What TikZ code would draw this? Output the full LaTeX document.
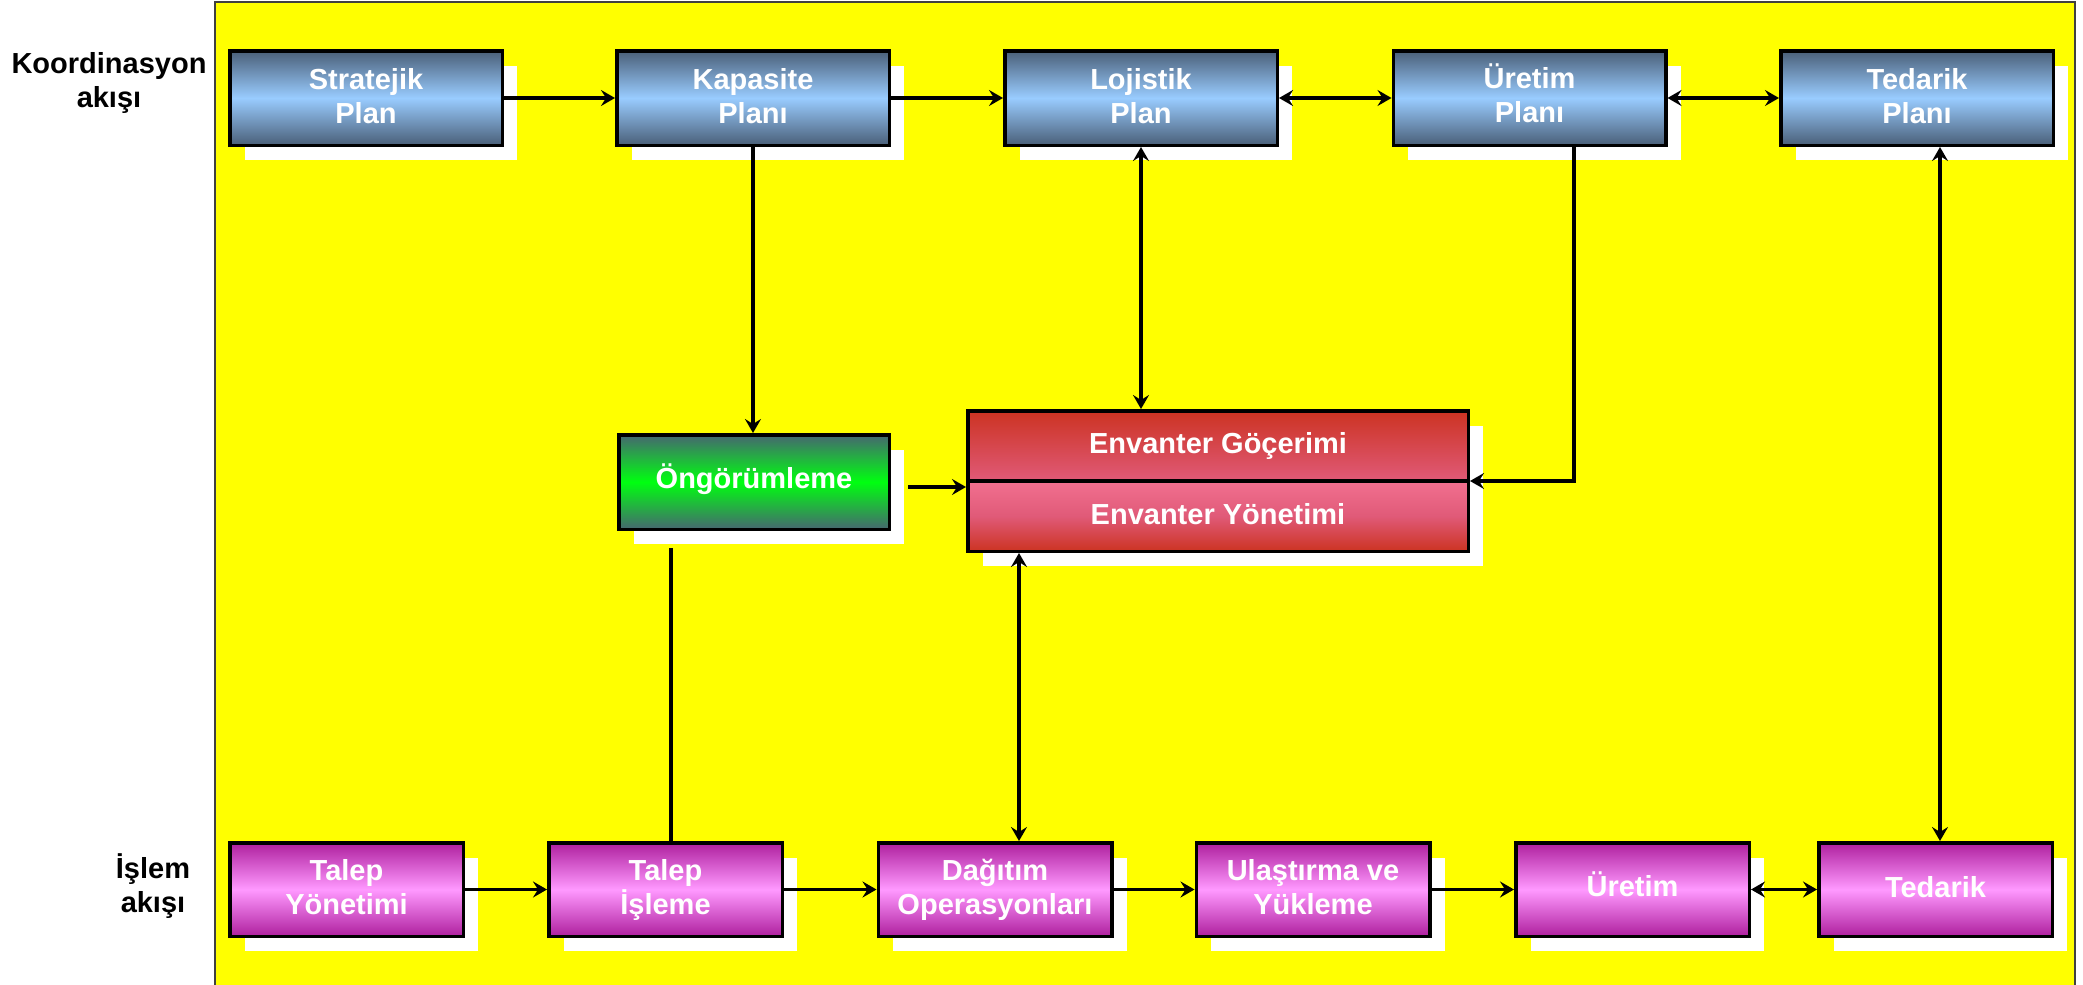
\documentclass[tikz,border=0pt]{standalone}
\usepackage{fontspec}
\setmainfont{Liberation Sans}
\usetikzlibrary{arrows.meta,calc,shadows}

\definecolor{panelyellow}{HTML}{FFFF00}
\definecolor{bluedark}{HTML}{4A5F78}
\definecolor{bluelight}{HTML}{99CCFF}
\definecolor{greendark}{HTML}{466670}
\definecolor{greenlight}{HTML}{00FF10}
\definecolor{reddark}{HTML}{CC3322}
\definecolor{redmid}{HTML}{E05A78}
\definecolor{redpink}{HTML}{F27090}
\definecolor{magdark}{HTML}{AE209E}
\definecolor{maglight}{HTML}{FF99FF}

\newcommand\boxfont{\fontsize{14.5pt}{17pt}\selectfont\bfseries}
% invisible depth used to balance the text block inside a box
\newcommand\deep[1]{\rule[-#1]{0pt}{0pt}}

\tikzset{
  box/.style={rectangle, draw=black, line width=1.75pt, inner sep=0pt,
    text=white, font=\boxfont, align=center,
    execute at end node=\deep{0.15em},
    drop shadow={shadow xshift=7.5pt, shadow yshift=-7.5pt, fill=white, opacity=1}},
  boxtext/.style={text=white, font=\boxfont, inner sep=0pt},
  planbox/.style={box, minimum width=136.25pt, minimum height=47.25pt,
    top color=bluedark, bottom color=bluedark, middle color=bluelight},
  flowbox/.style={box, minimum width=116.75pt, minimum height=46.75pt,
    top color=magdark, bottom color=magdark, middle color=maglight},
  sidelabel/.style={text=black, font=\boxfont, align=center, inner sep=0pt},
  link/.style={draw=black, line width=1.7pt},
  oneway/.style={-{Stealth[length=7pt, width=8pt, inset=2.5pt]}},
  twoway/.style={{Stealth[length=7pt, width=8pt, inset=2.5pt]}-{Stealth[length=7pt, width=8pt, inset=2.5pt]}},
}

\begin{document}
\begin{tikzpicture}[x=0.5pt, y=-0.5pt]
  \useasboundingbox (0,0) rectangle (2083,985);
  \fill[white] (0,0) rectangle (2083,985);

  % yellow panel behind the flow
  \begin{scope}
    \clip (0,0) rectangle (2083,985);
    \fill[panelyellow] (215,2) rectangle (2075,1000);
    \draw[black!75, line width=1pt] (215,1000) -- (215,2) -- (2075,2) -- (2075,1000);
  \end{scope}

  % row captions
  \node[sidelabel] (koord) at (109,83) {Koordinasyon\\akışı};
  \node[sidelabel] (islem) at (153,886) {İşlem\\akışı};

  % planning row
  \node[planbox] (sp) at (366,98)    {Stratejik\\Plan};
  \node[planbox] (kp) at (753,98)    {Kapasite\\Planı};
  \node[planbox] (lp) at (1141,98)   {Lojistik\\Plan};
  \node[planbox] (up) at (1529.5,98) {Üretim\\Planı\deep{0.35em}};
  \node[planbox] (tp) at (1917,98)   {Tedarik\\Planı};

  % middle blocks
  \node[box, minimum width=135.25pt, minimum height=47.25pt,
        top color=greendark, bottom color=greendark, middle color=greenlight]
        (ong) at (754,482) {Öngörümleme\deep{0.39em}};
  \node[box, minimum width=250.25pt, minimum height=70.25pt,
        execute at end node={},
        path picture={
          \shade[top color=reddark, bottom color=redpink, middle color=redmid]
            (path picture bounding box.north west) rectangle (path picture bounding box.east);
          \shade[top color=redpink, bottom color=reddark, middle color=redmid]
            (path picture bounding box.west) rectangle (path picture bounding box.south east);
          \draw[line width=1.75pt]
            (path picture bounding box.west) -- (path picture bounding box.east);
          \node[boxtext] at ($(path picture bounding box.center)!0.5!(path picture bounding box.north)$) {Envanter Göçerimi};
          \node[boxtext] at ($(path picture bounding box.center)!0.5!(path picture bounding box.south)$) {Envanter Yönetimi};
        }]
        (env) at (1218,481) {};

  % execution row
  \node[flowbox] (ty)  at (346.5,889.5)  {Talep\\Yönetimi};
  \node[flowbox] (ti)  at (665.5,889.5)  {Talep\\İşleme};
  \node[flowbox] (dag) at (995,889.5)    {Dağıtım\\Operasyonları};
  \node[flowbox] (uy)  at (1313,889.5)   {Ulaştırma ve\\Yükleme};
  \node[flowbox] (ur)  at (1632.5,889.5) {Üretim\deep{0.36em}};
  \node[flowbox] (td)  at (1935.5,889.5) {Tedarik};

  % columns used by vertical links
  \coordinate (ucol) at (1574,0);
  \coordinate (tcol) at (1940,0);
  \coordinate (dcol) at (1019,0);

  % planning row links
  \draw[link, oneway] (sp.east) -- (kp.west);
  \draw[link, oneway] (kp.east) -- (lp.west);
  \draw[link, twoway] (lp.east) -- (up.west);
  \draw[link, twoway] (up.east) -- (tp.west);

  % vertical links
  \draw[link, oneway] (kp.south) -- (kp.south |- ong.north);
  \draw[link, twoway] (lp.south) -- (lp.south |- env.north);
  \draw[link, oneway] (ucol |- up.south) -- (ucol |- env.east) -- (env.east);
  \draw[link, twoway] (tcol |- tp.south) -- (tcol |- td.north);
  \draw[link, oneway] ($(ong.east)+(17,5)$) coordinate (o1) -- (o1 -| env.west);
  \draw[link] ($(ong.south)+(-83,17)$) coordinate (o2) -- (o2 |- ti.north);
  \draw[link, twoway] (dcol |- env.south) -- (dcol |- dag.north);

  % execution row links
  \draw[link, oneway] (ty.east) -- (ti.west);
  \draw[link, oneway] (ti.east) -- (dag.west);
  \draw[link, oneway] (dag.east) -- (uy.west);
  \draw[link, oneway] (uy.east) -- (ur.west);
  \draw[link, twoway] (ur.east) -- (td.west);
\end{tikzpicture}
\end{document}
